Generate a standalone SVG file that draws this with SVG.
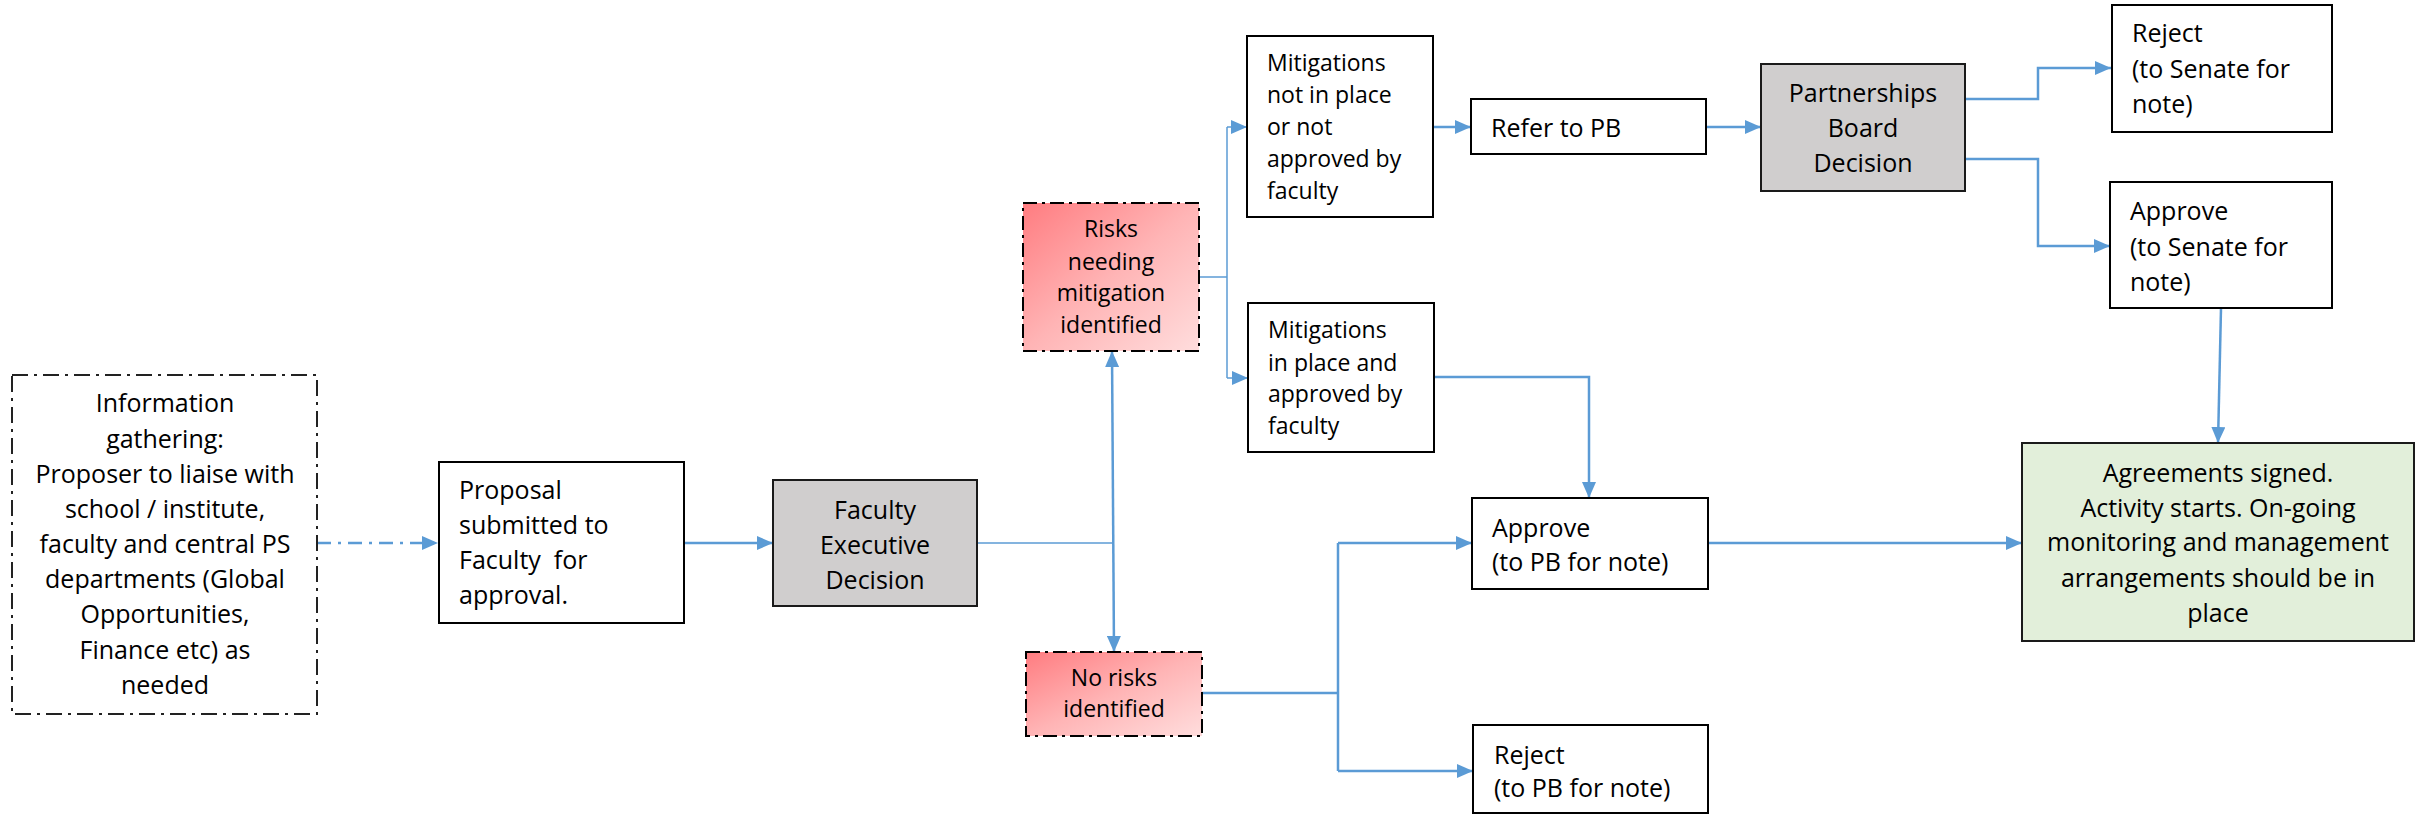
<svg xmlns="http://www.w3.org/2000/svg" width="2425" height="815" viewBox="0 0 2425 815">
<defs>
<style>
.box{fill:#ffffff;stroke:#000000;stroke-width:2}
.grey{fill:#D0CECE;stroke:#1a1a1a;stroke-width:2}
.green{fill:#E2EFDA;stroke:#1a1a1a;stroke-width:2}
.info{fill:#ffffff;stroke:#222222;stroke-width:2;stroke-dasharray:16 6 3 6}
.risk{fill:url(#redgrad);stroke:#000000;stroke-width:2;stroke-dasharray:14 5 3 5}
text{font-family:"Open Sans","Liberation Sans",sans-serif;fill:#000000}
.t25{font-size:25px}
.t23{font-size:23px}
.c{text-anchor:middle}
.conn{fill:none;stroke:#5B9BD5;stroke-width:2.5}
.thin{fill:none;stroke:#5B9BD5;stroke-width:1.5}
.dd{fill:none;stroke:#5B9BD5;stroke-width:2.5;stroke-dasharray:14 7 3 7}
</style>
<linearGradient id="redgrad" x1="0" y1="0" x2="1" y2="1">
<stop offset="0" stop-color="#FF7C80"/>
<stop offset="0.5" stop-color="#FFB4B5"/>
<stop offset="1" stop-color="#FFDDDD"/>
</linearGradient>
<marker id="ah" viewBox="0 0 16 14" refX="16" refY="7" markerWidth="16" markerHeight="14" markerUnits="userSpaceOnUse" orient="auto-start-reverse">
<path d="M0,0 L16,7 L0,14 z" fill="#5B9BD5"/>
</marker>
</defs>

<g id="connectors">
<path class="dd" d="M317,543 H438" marker-end="url(#ah)"/>
<path class="conn" d="M684,543 H773" marker-end="url(#ah)"/>
<path class="thin" d="M977,543 H1113"/>
<path class="conn" d="M1112,351 L1114,652" marker-start="url(#ah)" marker-end="url(#ah)"/>
<path class="thin" d="M1199,277 H1227"/>
<path class="thin" d="M1227,127 V378"/>
<path class="thin" d="M1227,127 H1247" marker-end="url(#ah)"/>
<path class="thin" d="M1227,378 H1248" marker-end="url(#ah)"/>
<path class="conn" d="M1433,127 H1471" marker-end="url(#ah)"/>
<path class="conn" d="M1706,127 H1761" marker-end="url(#ah)"/>
<path class="conn" d="M1965,99 H2038 V68 H2111" marker-end="url(#ah)"/>
<path class="conn" d="M1965,159 H2038 V246 H2110" marker-end="url(#ah)"/>
<path class="conn" d="M2221,308 L2218,443" marker-end="url(#ah)"/>
<path class="conn" d="M1434,377 H1589 V498" marker-end="url(#ah)"/>
<path class="conn" d="M1699,543 H2022" marker-end="url(#ah)"/>
<path class="conn" d="M1202,693 H1338"/>
<path class="conn" d="M1338,543 V771"/>
<path class="conn" d="M1338,543 H1472" marker-end="url(#ah)"/>
<path class="conn" d="M1338,771 H1473" marker-end="url(#ah)"/>
</g>

<g id="info">
<rect class="info" x="12" y="375" width="305" height="339"/>
<text class="t25 c" x="165" y="412">Information</text>
<text class="t25 c" x="165" y="448">gathering:</text>
<text class="t25 c" x="165" y="483">Proposer to liaise with</text>
<text class="t25 c" x="165" y="518">school / institute,</text>
<text class="t25 c" x="165" y="553">faculty and central PS</text>
<text class="t25 c" x="165" y="588">departments (Global</text>
<text class="t25 c" x="165" y="623">Opportunities,</text>
<text class="t25 c" x="165" y="659">Finance etc) as</text>
<text class="t25 c" x="165" y="694">needed</text>
</g>

<g id="proposal">
<rect class="box" x="439" y="462" width="245" height="161"/>
<text class="t25" x="459" y="499">Proposal</text>
<text class="t25" x="459" y="534">submitted to</text>
<text class="t25" x="459" y="569" style="white-space:pre">Faculty  for</text>
<text class="t25" x="459" y="604">approval.</text>
</g>

<g id="faculty-exec">
<rect class="grey" x="773" y="480" width="204" height="126"/>
<text class="t25 c" x="875" y="519">Faculty</text>
<text class="t25 c" x="875" y="554">Executive</text>
<text class="t25 c" x="875" y="589">Decision</text>
</g>

<g id="risks">
<rect class="risk" x="1023" y="203" width="176" height="148"/>
<text class="t23 c" x="1111" y="237">Risks</text>
<text class="t23 c" x="1111" y="270">needing</text>
<text class="t23 c" x="1111" y="301">mitigation</text>
<text class="t23 c" x="1111" y="333">identified</text>
</g>

<g id="no-risks">
<rect class="risk" x="1026" y="652" width="176" height="84"/>
<text class="t23 c" x="1114" y="686">No risks</text>
<text class="t23 c" x="1114" y="717">identified</text>
</g>

<g id="mitigations-not">
<rect class="box" x="1247" y="36" width="186" height="181"/>
<text class="t23" x="1267" y="71">Mitigations</text>
<text class="t23" x="1267" y="103">not in place</text>
<text class="t23" x="1267" y="135">or not</text>
<text class="t23" x="1267" y="167">approved by</text>
<text class="t23" x="1267" y="199">faculty</text>
</g>

<g id="mitigations-in">
<rect class="box" x="1248" y="303" width="186" height="149"/>
<text class="t23" x="1268" y="338">Mitigations</text>
<text class="t23" x="1268" y="371">in place and</text>
<text class="t23" x="1268" y="402">approved by</text>
<text class="t23" x="1268" y="434">faculty</text>
</g>

<g id="refer-pb">
<rect class="box" x="1471" y="99" width="235" height="55"/>
<text class="t25" x="1491" y="137">Refer to PB</text>
</g>

<g id="pb-decision">
<rect class="grey" x="1761" y="64" width="204" height="127"/>
<text class="t25 c" x="1863" y="102">Partnerships</text>
<text class="t25 c" x="1863" y="137">Board</text>
<text class="t25 c" x="1863" y="172">Decision</text>
</g>

<g id="reject-senate">
<rect class="box" x="2112" y="5" width="220" height="127"/>
<text class="t25" x="2132" y="42">Reject</text>
<text class="t25" x="2132" y="78">(to Senate for</text>
<text class="t25" x="2132" y="113">note)</text>
</g>

<g id="approve-senate">
<rect class="box" x="2110" y="182" width="222" height="126"/>
<text class="t25" x="2130" y="220">Approve</text>
<text class="t25" x="2130" y="256">(to Senate for</text>
<text class="t25" x="2130" y="291">note)</text>
</g>

<g id="approve-pb">
<rect class="box" x="1472" y="498" width="236" height="91"/>
<text class="t25" x="1492" y="537">Approve</text>
<text class="t25" x="1492" y="571">(to PB for note)</text>
</g>

<g id="reject-pb">
<rect class="box" x="1473" y="725" width="235" height="88"/>
<text class="t25" x="1494" y="764">Reject</text>
<text class="t25" x="1494" y="797">(to PB for note)</text>
</g>

<g id="agreements">
<rect class="green" x="2022" y="443" width="392" height="198"/>
<text class="t25 c" x="2218" y="482">Agreements signed.</text>
<text class="t25 c" x="2218" y="517">Activity starts. On-going</text>
<text class="t25 c" x="2218" y="551">monitoring and management</text>
<text class="t25 c" x="2218" y="587">arrangements should be in</text>
<text class="t25 c" x="2218" y="622">place</text>
</g>
</svg>
